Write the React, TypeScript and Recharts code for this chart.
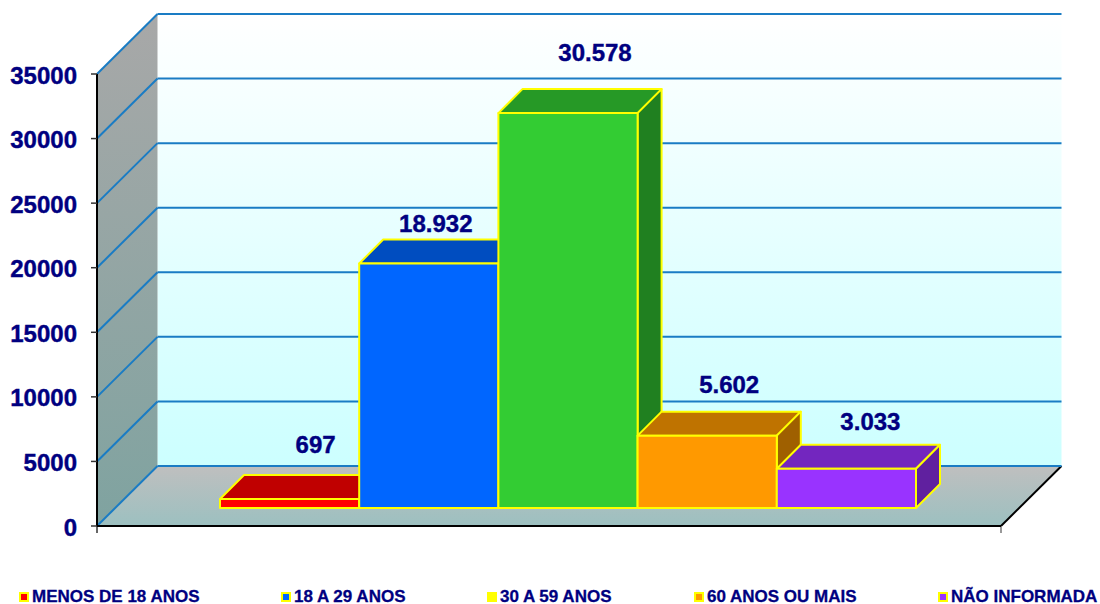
import React from "react";
import { ComposedChart, Bar, XAxis, YAxis, CartesianGrid, ReferenceArea, Legend, LabelList } from "recharts";

const categories = ["Faixa etária"];
const seriesNames = ["MENOS DE 18 ANOS", "18 A 29 ANOS", "30 A 59 ANOS", "60 ANOS OU MAIS", "NÃO INFORMADA"];
const seriesValues = [697, 18932, 30578, 5602, 3033];
const seriesColors = ["#ff0000", "#0066ff", "#33cc33", "#ff9900", "#9933ff"];
const legendColors = ["#ff0000", "#0066ff", "#ffff00", "#ff9900", "#9933ff"];
const topColors = ["#c00000", "#004dc0", "#269926", "#bf7300", "#7326bf"];
const sideColors = ["#a00000", "#0040a0", "#208020", "#9f6000", "#60209f"];
const yTicks = [0, 5000, 10000, 15000, 20000, 25000, 30000, 35000];

const rows = categories.map((category) => {
  const row: Record<string, string | number> = { category };
  seriesNames.forEach((n, i) => (row[n] = seriesValues[i]));
  return row;
});

const NAVY = "#000080";
const FONT = "'Liberation Sans', Arial, sans-serif";
const WALL_DX = 60.5;
const WALL_DY = -60;
const BAR_DX = 19;
const BAR_DY = -18;
const BOX_DEPTH = 24;
const labelNudge = [
  [26, -54],
  [7, -40],
  [27, -60],
  [22, -51],
  [24, -47],
];
const legendLeft = [19, 281, 487, 694, 938];

const fmt = (v: number) => String(v).replace(/\B(?=(\d{3})+$)/g, ".");

const Walls = (p: any) => {
  const { x, y, width, height } = p;
  const b = y + height;
  const r = x + width;
  return (
    <g>
      <defs>
        <linearGradient id="wallG" x1="0" y1="0" x2="0" y2="1">
          <stop offset="0" stopColor="#ffffff" />
          <stop offset="1" stopColor="#ccffff" />
        </linearGradient>
        <linearGradient id="sideG" x1="0" y1="0" x2="0" y2="1">
          <stop offset="0" stopColor="#a8a8a8" />
          <stop offset="1" stopColor="#7fa3a0" />
        </linearGradient>
        <linearGradient id="floorG" x1="0" y1="0" x2="0" y2="1">
          <stop offset="0" stopColor="#bfbfbf" />
          <stop offset="1" stopColor="#9cc0c0" />
        </linearGradient>
      </defs>
      <rect x={x + WALL_DX} y={y + WALL_DY} width={width} height={height} fill="url(#wallG)" />
      <polygon
        points={`${x},${y} ${x + WALL_DX},${y + WALL_DY} ${x + WALL_DX},${b + WALL_DY} ${x},${b}`}
        fill="url(#sideG)"
      />
      <polygon
        points={`${x},${b} ${x + WALL_DX},${b + WALL_DY} ${r + WALL_DX},${b + WALL_DY} ${r},${b}`}
        fill="url(#floorG)"
      />
      <line x1={r} y1={b} x2={r + WALL_DX} y2={b + WALL_DY} stroke="#000" strokeWidth={2} />
      <line x1={x} y1={b} x2={x} y2={b + 7} stroke="#333" strokeWidth={1.5} />
      <line x1={r} y1={b} x2={r} y2={b + 7} stroke="#777" strokeWidth={1.5} />
    </g>
  );
};

const GridLine = (p: any) => {
  const { x1, y1, x2, y2 } = p;
  return (
    <g>
      <line x1={x1} y1={y1} x2={x1 + WALL_DX} y2={y1 + WALL_DY} stroke="#1a7cc4" strokeWidth={2} />
      <line x1={x1 + WALL_DX} y1={y1 + WALL_DY} x2={x2 + WALL_DX} y2={y2 + WALL_DY} stroke="#1a7cc4" strokeWidth={2} />
    </g>
  );
};

const makeBox = (i: number) => (p: any) => {
  const x = p.x + BAR_DX;
  const y = p.y + BAR_DY;
  const w = p.width;
  const h = p.height;
  const d = BOX_DEPTH;
  const st = { stroke: "#ffff00", strokeWidth: 2, strokeLinejoin: "round" as const };
  return (
    <g>
      <polygon points={`${x},${y} ${x + d},${y - d} ${x + w + d},${y - d} ${x + w},${y}`} fill={topColors[i]} {...st} />
      <polygon
        points={`${x + w},${y} ${x + w + d},${y - d} ${x + w + d},${y + h - d} ${x + w},${y + h}`}
        fill={sideColors[i]}
        {...st}
      />
      <rect x={x} y={y} width={w} height={h} fill={seriesColors[i]} {...st} />
    </g>
  );
};

const makeLabel = (i: number) => (p: any) => (
  <text
    x={p.x + p.width / 2 + BAR_DX + labelNudge[i][0]}
    y={p.y + BAR_DY + labelNudge[i][1] + 8}
    textAnchor="middle"
    fontFamily={FONT}
    fontSize={24}
    fontWeight="bold"
    fill={NAVY}
    stroke={NAVY}
    strokeWidth={0.4}
  >
    {fmt(Number(p.value))}
  </text>
);

const LegendRow = () => (
  <div style={{ position: "relative", width: 1100, height: 30 }}>
    {seriesNames.map((n, i) => (
      <div
        key={n}
        style={{
          position: "absolute",
          left: legendLeft[i],
          top: 16,
          height: 14,
          display: "flex",
          alignItems: "center",
          fontFamily: FONT,
          fontSize: 17,
          fontWeight: "bold",
          color: NAVY,
          whiteSpace: "nowrap",
          lineHeight: "14px",
          WebkitTextStroke: "0.3px #000080",
        }}
      >
        <span
          style={{
            display: "inline-block",
            boxSizing: "border-box",
            width: 10,
            height: 10,
            marginRight: 3,
            background: legendColors[i],
            border: "2px solid #ffff00",
          }}
        />
        {n}
      </div>
    ))}
  </div>
);

export default function App() {
  return (
    <div style={{ position: "absolute", left: 0, top: 0, width: 1100, height: 604, overflow: "hidden" }}>
      <ComposedChart
        width={1100}
        height={604}
        data={rows}
        margin={{ top: 74, right: 99, bottom: 0, left: 0 }}
        barGap={0}
        barSize={139.2}
      >
        <ReferenceArea
          {...({ zIndex: -200 } as any)}
          x1={categories[0]}
          x2={categories[0]}
          y1={0}
          y2={35000}
          ifOverflow="visible"
          shape={(p: any) => <Walls {...p} x={97} width={904} />}
        />
        <CartesianGrid vertical={false} horizontal={(p: any) => <GridLine {...p} />} />
        <XAxis
          dataKey="category"
          height={48}
          tick={false}
          tickLine={false}
          axisLine={{ stroke: "#000", strokeWidth: 2 }}
        />
        <YAxis
          width={97}
          domain={[0, 35000]}
          ticks={yTicks}
          interval={0}
          tickSize={6}
          tickMargin={14}
          axisLine={{ stroke: "#000", strokeWidth: 2 }}
          tickLine={{ stroke: "#333", strokeWidth: 1.5 }}
          tick={{ fontFamily: FONT, fontSize: 24, fontWeight: "bold", fill: NAVY, stroke: NAVY, strokeWidth: 0.4, dy: 1 }}
        />
        {seriesNames.map((n, i) => (
          <Bar key={n} dataKey={n} isAnimationActive={false} fill={seriesColors[i]} shape={makeBox(i)}>
            <LabelList dataKey={n} content={makeLabel(i)} />
          </Bar>
        ))}
        <Legend verticalAlign="bottom" height={30} content={<LegendRow />} wrapperStyle={{ left: 0, width: 1100 }} />
      </ComposedChart>
    </div>
  );
}
